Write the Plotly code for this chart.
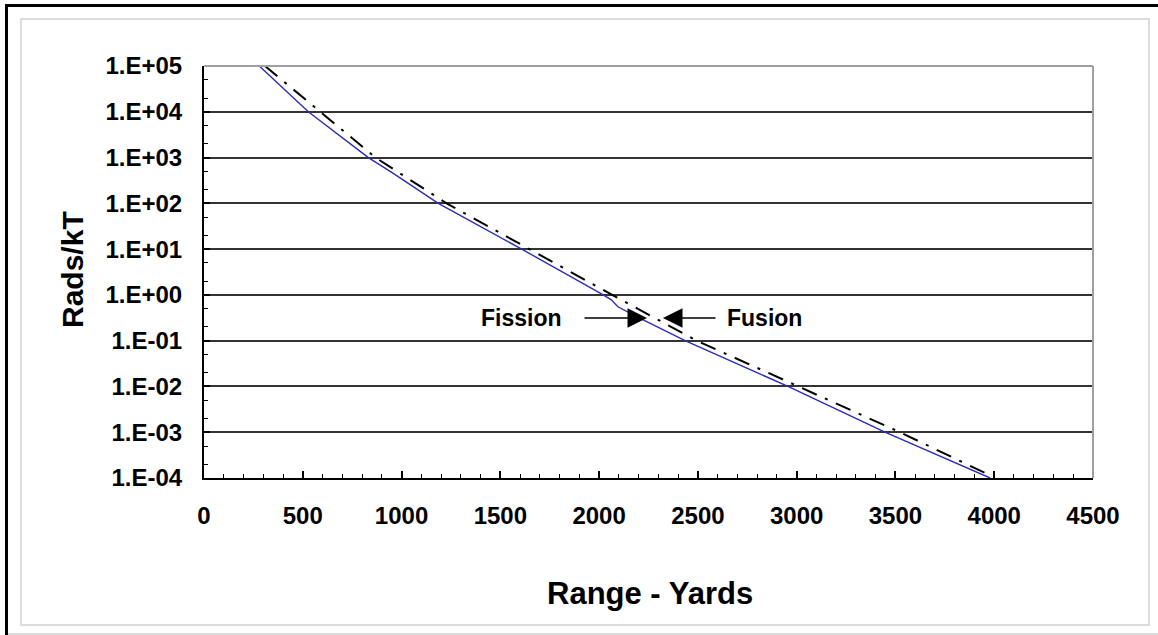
import plotly.graph_objects as go

# ---- data ----
fission_range = [280, 528, 832, 958, 1186, 1608, 2021, 2062, 2095, 2190, 2435, 2956, 3447, 3979]
fission_rads = [1e5, 1e4, 1e3, 453, 1e2, 10, 1, 0.78, 0.55, 0.334, 0.1, 0.01, 1e-3, 1e-4]

fusion_range = [309, 590, 868, 1228, 1648, 2066, 2494, 3005, 3523, 3953]
fusion_rads = [1e5, 1e4, 1e3, 1e2, 10, 1, 0.1, 0.01, 1e-3, 1.29e-4]

y_tick_vals = [1e-4, 1e-3, 1e-2, 1e-1, 1e0, 1e1, 1e2, 1e3, 1e4, 1e5]
y_tick_text = ["1.E-04", "1.E-03", "1.E-02", "1.E-01", "1.E+00",
               "1.E+01", "1.E+02", "1.E+03", "1.E+04", "1.E+05"]
x_tick_vals = [0, 500, 1000, 1500, 2000, 2500, 3000, 3500, 4000, 4500]

# ---- layout geometry ----
W, H = 1158, 635
L, R, T, B = 204, 1093, 66, 478


def px(x):
    return (x - L) / (R - L)


def py(y):
    return (B - y) / (B - T)


FONT = "Liberation Sans, Arial, sans-serif"

fig = go.Figure()
fig.add_trace(go.Scatter(
    x=fission_range, y=fission_rads, mode="lines", name="Fission",
    line=dict(color="#2c2cba", width=1.4), showlegend=False))
fig.add_trace(go.Scatter(
    x=fusion_range, y=fusion_rads, mode="lines", name="Fusion",
    line=dict(color="black", width=2, dash="16px,9px,3px,9px"), showlegend=False))

fig.update_layout(
    width=W, height=H,
    margin=dict(l=L, r=W - R, t=T, b=H - B, pad=0),
    paper_bgcolor="white", plot_bgcolor="white",
    font=dict(family=FONT, color="black"),
    showlegend=False,
)

fig.update_xaxes(
    range=[0, 4500], tickvals=x_tick_vals,
    ticks="inside", ticklen=7, tickwidth=1.5, tickcolor="black",
    minor=dict(dtick=100, ticks="inside", ticklen=4, tickwidth=1, tickcolor="black", showgrid=False),
    showgrid=False, zeroline=False,
    showline=True, linecolor="black", linewidth=2,
    tickfont=dict(family=FONT, size=24, color="black", weight="bold"),
    ticklabelstandoff=15,
)
fig.update_yaxes(
    type="log", range=[-4, 5], tickvals=y_tick_vals, ticktext=y_tick_text,
    ticks="inside", ticklen=6, tickwidth=2, tickcolor="black",
    minor=dict(ticks="inside", ticklen=4, tickwidth=1, tickcolor="black", showgrid=False),
    showgrid=True, gridcolor="#333333", gridwidth=2,
    zeroline=False,
    showline=True, linecolor="black", linewidth=2,
    tickfont=dict(family=FONT, size=24, color="black", weight="bold"),
    ticklabelstandoff=15,
)

# titles as annotations for exact placement
fig.add_annotation(xref="paper", yref="paper", x=px(650), y=py(593),
                   text="Range - Yards", showarrow=False,
                   font=dict(family=FONT, size=31, color="black", weight="bold"),
                   xanchor="center", yanchor="middle")
fig.add_annotation(xref="paper", yref="paper", x=px(72), y=py(270),
                   text="Rads/kT", showarrow=False, textangle=-90,
                   font=dict(family=FONT, size=30, color="black", weight="bold"),
                   xanchor="center", yanchor="middle")

# labels with arrows
label_font = dict(family=FONT, size=23, color="black", weight="bold")
fig.add_annotation(xref="paper", yref="paper", x=px(521), y=py(318), text="Fission",
                   showarrow=False, font=label_font, xanchor="center", yanchor="middle")
fig.add_annotation(xref="paper", yref="paper", x=px(764), y=py(318), text="Fusion",
                   showarrow=False, font=label_font, xanchor="center", yanchor="middle")
fig.add_annotation(xref="paper", yref="paper", x=px(647), y=py(318),
                   axref="pixel", ayref="pixel", ax=-64, ay=0,
                   text="", showarrow=True, arrowhead=2, arrowsize=2.6,
                   arrowwidth=1.5, arrowcolor="black")
fig.add_annotation(xref="paper", yref="paper", x=px(663), y=py(318),
                   axref="pixel", ayref="pixel", ax=54, ay=0,
                   text="", showarrow=True, arrowhead=2, arrowsize=2.6,
                   arrowwidth=1.5, arrowcolor="black")

shapes = [
    # plot-area top and right edges (grey)
    dict(type="line", xref="paper", yref="paper", x0=0, x1=1, y0=1, y1=1,
         line=dict(color="#a0a0a0", width=2)),
    dict(type="line", xref="paper", yref="paper", x0=1, x1=1, y0=0, y1=1,
         line=dict(color="#a0a0a0", width=2)),
    # inner light frame
    dict(type="rect", xref="paper", yref="paper",
         x0=px(21), x1=px(1149), y0=py(625), y1=py(19),
         line=dict(color="#dcdcdc", width=2)),
    # outer bottom light line
    dict(type="line", xref="paper", yref="paper", x0=px(6), x1=px(1158), y0=py(634), y1=py(634),
         line=dict(color="#dcdcdc", width=2)),
    # outer black top/left border
    dict(type="line", xref="paper", yref="paper", x0=px(5), x1=px(1158), y0=py(5.5), y1=py(5.5),
         line=dict(color="black", width=3)),
    dict(type="line", xref="paper", yref="paper", x0=px(6.5), x1=px(6.5), y0=py(635), y1=py(4),
         line=dict(color="black", width=3)),
]
fig.update_layout(shapes=shapes)

fig.write_html("out.html", config={"displayModeBar": False},
               post_script="document.body.style.margin='0px';")
